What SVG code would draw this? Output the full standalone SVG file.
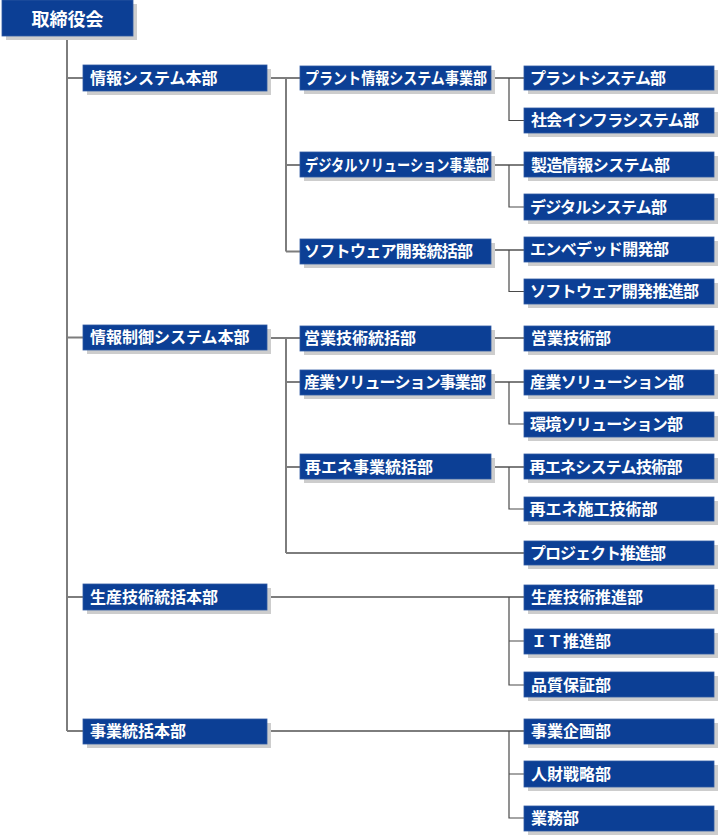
<svg xmlns="http://www.w3.org/2000/svg" width="718" height="835" viewBox="0 0 718 835">
<style>
.sh{fill:#cdcdcd}
.bx{fill:#0c3f95;stroke:#2f5aa3;stroke-width:0.8}
.t{font-family:"Noto Sans CJK JP","Noto Sans",sans-serif;font-weight:bold;font-size:16px;fill:#ffffff}
.top{font-size:18px}
.c{fill:none;stroke:#7d7d7d;stroke-width:2}
.d{fill:none;stroke:#4a4a4a;stroke-width:1.2}
</style>
<rect width="718" height="835" fill="#ffffff"/>
<g id="connectors">
<path class="c" d="M67 36V731M67 78H83M67 337.5H83M67 597H83M67 731H83"/>
<path class="c" d="M267 78H300M286 78V251.5M286 165H300M286 251.5H300"/>
<path class="c" d="M267 338H300M286 338V553M286 382H300M286 467H300M286 553H524"/>
<path class="c" d="M491 78H524M491 165H524M491 250H524M491 338H524M491 382H524M491 467H524M267 597H524M267 731H524"/>
<path class="d" d="M509 78V120.5H524M509 165V207H524M509 250V291.5H524M509 382V424H524M509 467V509H524M509 597V685H524M509 641H524M509 731V818H524M509 774H524"/>
</g>
<g id="n0"><rect class="sh" x="6" y="4" width="131" height="36"/><rect class="bx" x="2" y="0" width="131" height="36"/><text class="t top" x="67.5" y="25.5" text-anchor="middle">取締役会</text></g>
<g id="n1"><rect class="sh" x="87" y="69" width="184" height="26"/><rect class="bx" x="83" y="65" width="184" height="26"/><text class="t" x="90" y="83.5">情報システム本部</text></g>
<g id="n2"><rect class="sh" x="87" y="329" width="184" height="25"/><rect class="bx" x="83" y="325" width="184" height="25"/><text class="t" x="90" y="343">情報制御システム本部</text></g>
<g id="n3"><rect class="sh" x="87" y="588" width="184" height="26"/><rect class="bx" x="83" y="584" width="184" height="26"/><text class="t" x="90" y="602.5">生産技術統括本部</text></g>
<g id="n4"><rect class="sh" x="87" y="723" width="184" height="25"/><rect class="bx" x="83" y="719" width="184" height="25"/><text class="t" x="90" y="737">事業統括本部</text></g>

<g id="n11"><rect class="sh" x="304" y="70" width="191" height="24"/><rect class="bx" x="300" y="66" width="191" height="24"/><text class="t" x="305" y="83.5" textLength="182" lengthAdjust="spacingAndGlyphs">プラント情報システム事業部</text></g>
<g id="n12"><rect class="sh" x="304" y="156" width="191" height="25"/><rect class="bx" x="300" y="152" width="191" height="25"/><text class="t" x="305" y="170.5" textLength="184" lengthAdjust="spacingAndGlyphs">デジタルソリューション事業部</text></g>
<g id="n13"><rect class="sh" x="304" y="243" width="191" height="25"/><rect class="bx" x="300" y="239" width="191" height="25"/><text class="t" x="304" y="257" textLength="169" lengthAdjust="spacing">ソフトウェア開発統括部</text></g>
<g id="n21"><rect class="sh" x="304" y="330" width="191" height="25"/><rect class="bx" x="300" y="326" width="191" height="25"/><text class="t" x="304" y="344">営業技術統括部</text></g>
<g id="n22"><rect class="sh" x="304" y="374" width="191" height="25"/><rect class="bx" x="300" y="370" width="191" height="25"/><text class="t" x="304" y="388" textLength="182" lengthAdjust="spacing">産業ソリューション事業部</text></g>
<g id="n23"><rect class="sh" x="304" y="458" width="191" height="25"/><rect class="bx" x="300" y="454" width="191" height="25"/><text class="t" x="305" y="472.5">再エネ事業統括部</text></g>

<g id="m1"><rect class="sh" x="528" y="70" width="190" height="24"/><rect class="bx" x="524" y="66" width="190" height="24"/><text class="t" x="530" y="83.5" textLength="136" lengthAdjust="spacing">プラントシステム部</text></g>
<g id="m2"><rect class="sh" x="528" y="112" width="190" height="25"/><rect class="bx" x="524" y="108" width="190" height="25"/><text class="t" x="531" y="126" textLength="168" lengthAdjust="spacing">社会インフラシステム部</text></g>
<g id="m3"><rect class="sh" x="528" y="156" width="190" height="25"/><rect class="bx" x="524" y="152" width="190" height="25"/><text class="t" x="531" y="170.5" textLength="139" lengthAdjust="spacing">製造情報システム部</text></g>
<g id="m4"><rect class="sh" x="528" y="198" width="190" height="26"/><rect class="bx" x="524" y="194" width="190" height="26"/><text class="t" x="530" y="212.5" textLength="137" lengthAdjust="spacing">デジタルシステム部</text></g>
<g id="m5"><rect class="sh" x="528" y="241" width="190" height="25"/><rect class="bx" x="524" y="237" width="190" height="25"/><text class="t" x="530" y="255" textLength="139" lengthAdjust="spacing">エンベデッド開発部</text></g>
<g id="m6"><rect class="sh" x="528" y="283" width="190" height="25"/><rect class="bx" x="524" y="279" width="190" height="25"/><text class="t" x="530" y="297" textLength="169" lengthAdjust="spacing">ソフトウェア開発推進部</text></g>
<g id="m7"><rect class="sh" x="528" y="330" width="190" height="25"/><rect class="bx" x="524" y="326" width="190" height="25"/><text class="t" x="531" y="344">営業技術部</text></g>
<g id="m8"><rect class="sh" x="528" y="374" width="190" height="25"/><rect class="bx" x="524" y="370" width="190" height="25"/><text class="t" x="530" y="388" textLength="154" lengthAdjust="spacing">産業ソリューション部</text></g>
<g id="m9"><rect class="sh" x="528" y="416" width="190" height="25"/><rect class="bx" x="524" y="412" width="190" height="25"/><text class="t" x="530" y="430" textLength="153" lengthAdjust="spacing">環境ソリューション部</text></g>
<g id="m10"><rect class="sh" x="528" y="458" width="190" height="25"/><rect class="bx" x="524" y="454" width="190" height="25"/><text class="t" x="529.5" y="472.5" textLength="153" lengthAdjust="spacing">再エネシステム技術部</text></g>
<g id="m11"><rect class="sh" x="528" y="501" width="190" height="24"/><rect class="bx" x="524" y="497" width="190" height="24"/><text class="t" x="529.5" y="514.5">再エネ施工技術部</text></g>
<g id="m12"><rect class="sh" x="528" y="545" width="190" height="24"/><rect class="bx" x="524" y="541" width="190" height="24"/><text class="t" x="530" y="558.5" textLength="136" lengthAdjust="spacing">プロジェクト推進部</text></g>
<g id="m13"><rect class="sh" x="528" y="589" width="190" height="25"/><rect class="bx" x="524" y="585" width="190" height="25"/><text class="t" x="531" y="603">生産技術推進部</text></g>
<g id="m14"><rect class="sh" x="528" y="633" width="190" height="25"/><rect class="bx" x="524" y="629" width="190" height="25"/><text class="t" x="531" y="647">ＩＴ推進部</text></g>
<g id="m15"><rect class="sh" x="528" y="676" width="190" height="25"/><rect class="bx" x="524" y="672" width="190" height="25"/><text class="t" x="531" y="690.5">品質保証部</text></g>
<g id="m16"><rect class="sh" x="528" y="723" width="190" height="25"/><rect class="bx" x="524" y="719" width="190" height="25"/><text class="t" x="531" y="737">事業企画部</text></g>
<g id="m17"><rect class="sh" x="528" y="765" width="190" height="26"/><rect class="bx" x="524" y="761" width="190" height="26"/><text class="t" x="531" y="779.5">人財戦略部</text></g>
<g id="m18"><rect class="sh" x="528" y="810" width="190" height="25"/><rect class="bx" x="524" y="806" width="190" height="25"/><text class="t" x="531" y="824">業務部</text></g>
</svg>
